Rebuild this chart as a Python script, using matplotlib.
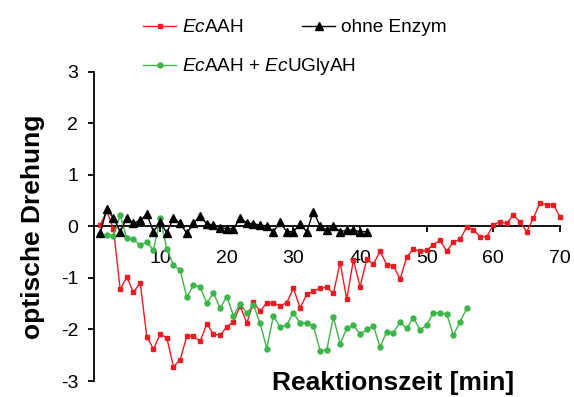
import matplotlib
matplotlib.use("Agg")
import matplotlib.pyplot as plt

plt.rcParams["font.family"] = ["Liberation Sans", "DejaVu Sans"]
plt.rcParams["mathtext.fontset"] = "custom"
plt.rcParams["mathtext.rm"] = "Liberation Sans"
plt.rcParams["mathtext.it"] = "Liberation Sans:italic"
plt.rcParams["axes.unicode_minus"] = False

# Reaction time [min]
t_aah = list(range(1, 71))
t_mix = list(range(1, 57))
t_blank = list(range(1, 42))

# Optical rotation, EcAAH alone
rot_aah = [
    0.03, 0.30, -0.05, -1.22, -0.98, -1.28, -1.09, -2.14, -2.38, -2.09,
    -2.16, -2.72, -2.59, -2.13, -2.13, -2.23, -1.89, -2.09, -2.11, -1.95,
    -1.85, -1.54, -1.88, -1.46, -1.65, -1.48, -1.49, -1.54, -1.48, -1.20,
    -1.58, -1.32, -1.25, -1.20, -1.18, -1.30, -0.70, -1.41, -0.65, -1.17,
    -0.64, -0.73, -0.48, -0.74, -0.76, -1.02, -0.59, -0.44, -0.48, -0.46,
    -0.35, -0.27, -0.48, -0.30, -0.25, -0.01, -0.06, -0.20, -0.20, 0.03,
    0.09, 0.06, 0.22, 0.09, -0.10, 0.16, 0.46, 0.42, 0.42, 0.19,
]

# Optical rotation, EcAAH + EcUGlyAH
rot_mix = [
    -0.15, -0.17, -0.19, 0.22, -0.23, -0.25, -0.36, -0.30, -0.46, 0.16,
    -0.44, -0.75, -0.85, -1.37, -1.14, -1.17, -1.49, -1.29, -1.59, -1.36,
    -1.73, -1.50, -1.68, -1.52, -1.88, -2.37, -1.73, -1.96, -1.91, -1.67,
    -1.88, -1.88, -1.93, -2.41, -2.40, -1.75, -2.28, -1.98, -1.91, -2.09,
    -2.00, -1.93, -2.34, -2.04, -2.06, -1.86, -1.98, -1.77, -2.01, -1.91,
    -1.67, -1.68, -1.70, -2.11, -1.85, -1.59,
]

# Optical rotation, without enzyme
rot_blank = [
    -0.13, 0.34, 0.16, -0.10, 0.16, 0.06, 0.12, 0.24, -0.10, 0.08,
    -0.12, 0.17, 0.06, -0.13, 0.06, 0.21, 0.05, 0.03, -0.02, -0.04,
    -0.04, 0.16, 0.07, 0.05, 0.03, 0.01, -0.10, 0.08, -0.10, -0.10,
    0.05, -0.10, 0.29, 0.01, -0.07, 0.01, -0.10, -0.07, -0.07, -0.10,
    -0.10,
]

x_ticks = [10, 20, 30, 40, 50, 60, 70]
y_ticks = [-3, -2, -1, 0, 1, 2, 3]

RED = "#ec1c24"
GREEN = "#3cb54a"

fig = plt.figure(figsize=(5.74, 3.97), dpi=100)
ax = fig.add_axes([93.5 / 574, 1 - 381 / 397, (560 - 93.5) / 574, (381 - 72) / 397])

l_aah, = ax.plot(t_aah, rot_aah, color=RED, lw=1.0, marker="s", ms=3.5,
                 label=r"$\mathit{Ec}$AAH", clip_on=False, zorder=3)
l_mix, = ax.plot(t_mix, rot_mix, color=GREEN, lw=1.0, marker="o", ms=3.6,
                 label=r"$\mathit{Ec}$AAH + $\mathit{Ec}$UGlyAH", clip_on=False, zorder=3)
l_blank, = ax.plot(t_blank, rot_blank, color="black", lw=1.0, marker="^", ms=6.3,
                   label="ohne Enzym", clip_on=False, zorder=4)

ax.set_xlim(0, 70)
ax.set_ylim(-3, 3)
ax.set_xticks(x_ticks)
ax.set_yticks(y_ticks)

for side in ("top", "right"):
    ax.spines[side].set_visible(False)
ax.spines["bottom"].set_position(("data", 0))
ax.spines["bottom"].set_linewidth(1.3)
ax.spines["left"].set_linewidth(1.3)
ax.spines["bottom"].set_zorder(2)

ax.tick_params(axis="x", direction="out", length=4, width=1.3, pad=13, labelsize=14)
ax.tick_params(axis="y", direction="out", length=4, width=1.3, pad=7, labelsize=14)

ax.set_xlabel("Reaktionszeit [min]", fontsize=19, fontweight="bold")
ax.xaxis.label.set_va("center")
ax.xaxis.set_label_coords(0.642, -0.006)
ax.set_ylabel("optische Drehung", fontsize=19, fontweight="bold")
ax.yaxis.label.set_va("center")
ax.yaxis.set_label_coords(-0.13, 0.5)

leg_common = dict(frameon=False, fontsize=13.7, borderpad=0, borderaxespad=0,
                  handlelength=1.75, handletextpad=0.3, labelspacing=1.05,
                  loc="upper left", bbox_transform=fig.transFigure)
leg1 = ax.legend(handles=[l_aah, l_mix], bbox_to_anchor=(143 / 574, 1 - 19 / 397), **leg_common)
ax.add_artist(leg1)
ax.legend(handles=[l_blank], bbox_to_anchor=(302 / 574, 1 - 19 / 397), **leg_common)

fig.savefig("out.png", dpi=100)
